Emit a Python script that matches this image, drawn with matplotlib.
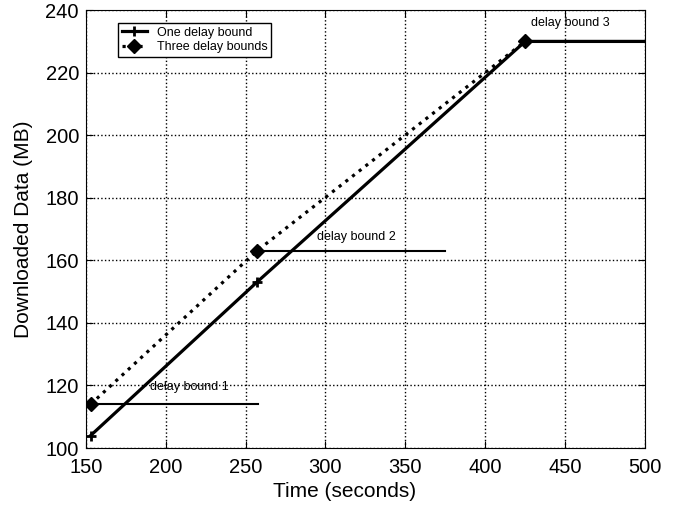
import matplotlib
matplotlib.use("Agg")
import matplotlib.pyplot as plt

plt.rcParams["font.family"] = ["Liberation Sans", "DejaVu Sans"]

# one delay bound: single straight run to the final bound
one_t = [153, 257, 425, 500]
one_mb = [104, 153, 230, 230]

# three delay bounds: dotted run through each bound
three_t = [153, 257, 425]
three_mb = [114, 163, 230]

# horizontal delay-bound segments (start, end, level)
bound_start = [153, 257, 425]
bound_end = [258, 375, 500]
bound_level = [114, 163, 230]
bound_names = ["delay bound 1", "delay bound 2", "delay bound 3"]
label_x = [190, 295, 429]
label_y = [117.5, 165.5, 234]

fig = plt.figure(figsize=(6.76, 5.08), dpi=100)
ax = fig.add_axes([0.127, 0.118, 0.827, 0.862])

for x0, x1, y in zip(bound_start, bound_end, bound_level):
    ax.plot([x0, x1], [y, y], color="black", linewidth=1.5)
for name, x, y in zip(bound_names, label_x, label_y):
    ax.text(x, y, name, fontsize=9, ha="left", va="bottom")

ax.plot(one_t, one_mb, color="black", linewidth=2.3, marker="+", markersize=7,
        markeredgewidth=2, markevery=[0, 1], label="One delay bound")
ax.plot(three_t, three_mb, color="black", linewidth=2.3, linestyle=":",
        marker="D", markersize=7, markerfacecolor="black", label="Three delay bounds")

ax.set_xlim(150, 500)
ax.set_ylim(100, 240)
ax.set_xticks(range(150, 501, 50))
ax.set_yticks(range(100, 241, 20))
ax.grid(True, color="black", linestyle=":", linewidth=1)
ax.tick_params(direction="in", labelsize=14.5, top=True, right=True, length=5)
ax.tick_params(axis="x", pad=7)
ax.tick_params(axis="y", pad=5)
ax.set_xlabel("Time (seconds)", fontsize=15)
ax.xaxis.set_label_coords(0.463, -0.078)
ax.set_ylabel("Downloaded Data (MB)", fontsize=15)
ax.yaxis.set_label_coords(-0.095, 0.5)

leg = ax.legend(loc="upper left", bbox_to_anchor=(0.046, 0.985), fontsize=9,
                frameon=True, fancybox=False, edgecolor="black", framealpha=1,
                handlelength=2, borderpad=0.3, labelspacing=0.2)
leg.get_frame().set_linewidth(1)

fig.savefig("out.png", dpi=100)
